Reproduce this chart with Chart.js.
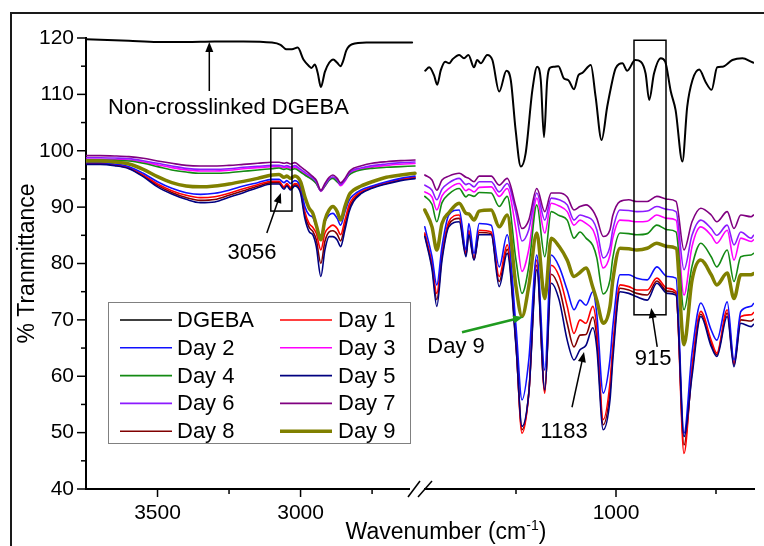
<!DOCTYPE html>
<html>
<head>
<meta charset="utf-8">
<script src="https://cdn.jsdelivr.net/npm/chart.js@4.4.1/dist/chart.umd.min.js"></script>
<style>
  html, body { margin: 0; padding: 0; background: #fff; }
  #wrap { position: relative; width: 764px; height: 546px; overflow: hidden; background: #fff; }
  #frame { position: absolute; left: 10px; top: 12px; width: 800px; height: 600px; border: 2px solid #1a1a1a; }
  #ftir { position: absolute; left: 0; top: 0; }
  #xtitle { position: absolute; left: 246px; width: 400px; top: 518px; text-align: center;
            font: 23px "Liberation Sans", Arial, sans-serif; color: #000; line-height: 26px; }
  #xtitle sup { font-size: 14px; vertical-align: 9px; line-height: 0; }
</style>
</head>
<body>
<div id="wrap">
  <div id="frame"></div>
  <canvas id="ftir" width="764" height="546"></canvas>
  <div id="xtitle">Wavenumber (cm<sup>-1</sup>)</div>
</div>
<script>
// --- DONNEES ---
// axe casse : partie gauche (3750-2600) et partie droite (1480-655)
const leftTicks = [3500, 3250, 3000, 2750];
const rightTicks = [1250, 1000, 750];

// DGEBA non reticule (decale vers le haut)
const dgebaLeftWn = [3750, 3700, 3600, 3500, 3400, 3300, 3200, 3100, 3070, 3050, 3030, 3010, 2990, 2970, 2962, 2950, 2940, 2929, 2915, 2900, 2886, 2872, 2860, 2852, 2840, 2820, 2770, 2700, 2610];
const dgebaLeft = [119.8, 119.7, 119.5, 119.3, 119.3, 119.4, 119.4, 119.2, 118.8, 118.0, 118.0, 118.3, 116.2, 115.0, 114.7, 115.3, 113.8, 111.3, 114.0, 115.6, 116.2, 115.6, 115.0, 115.8, 117.8, 118.9, 119.2, 119.2, 119.2];
const dgebaRightWn = [1477, 1467, 1455, 1447, 1438, 1427, 1417, 1409, 1392, 1380, 1369, 1355, 1347, 1338, 1322, 1309, 1292, 1274, 1263, 1251, 1238, 1226, 1209, 1197, 1188, 1180, 1172, 1163, 1155, 1144, 1130, 1119, 1105, 1094, 1084, 1063, 1051, 1036, 1022, 1013, 1001, 984, 972, 952, 938, 926, 917, 905, 888, 877, 863, 851, 834, 822, 809, 792, 776, 761, 747, 734, 709, 684, 659, 655];
const dgebaRight = [114.2, 114.8, 113.4, 111.7, 114.3, 115.8, 115.5, 116.2, 117.0, 116.4, 117.0, 114.8, 116.1, 115.5, 117.0, 116.1, 110.5, 114.2, 112.5, 103.7, 97.2, 99.5, 110.8, 114.9, 112.5, 102.4, 112.5, 114.8, 114.9, 115.0, 112.8, 112.5, 110.9, 113.4, 113.8, 115.2, 109.6, 101.9, 107.8, 111.1, 114.6, 115.5, 114.2, 116.1, 115.8, 113.7, 109.0, 113.7, 116.4, 115.8, 110.5, 107.2, 98.1, 107.8, 112.5, 114.4, 112.2, 110.8, 114.8, 114.9, 116.1, 116.4, 115.7, 115.6];

// echantillons communs pour les jours
const dayLeftWn = [3750, 3700, 3650, 3600, 3550, 3500, 3450, 3400, 3350, 3300, 3250, 3200, 3150, 3100, 3075, 3058, 3048, 3035, 3020, 3000, 2985, 2970, 2957, 2945, 2929, 2915, 2900, 2887, 2872, 2860, 2845, 2830, 2815, 2790, 2750, 2700, 2650, 2600];
const dayRightWn = [1478, 1460, 1448, 1435, 1418, 1392, 1375, 1368, 1355, 1342, 1312, 1292, 1272, 1250, 1235, 1218, 1198, 1178, 1162, 1142, 1122, 1105, 1090, 1075, 1058, 1048, 1032, 1015, 1008, 990, 968, 948, 922, 898, 872, 850, 830, 810, 788, 762, 748, 722, 705, 688, 662, 656];

const day1Left = [97.77, 97.77, 97.53, 97.0, 95.7, 94.1, 92.92, 92.09, 91.68, 91.85, 92.45, 93.27, 93.98, 94.6, 94.58, 93.6, 94.2, 93.5, 94.2, 93.15, 89.2, 87.1, 86.4, 85.35, 82.4, 85.35, 86.4, 86.8, 86.2, 85.1, 87.7, 90.4, 91.7, 92.7, 93.6, 94.34, 94.93, 95.3];
const day1Right = [85.4, 80.0, 74.7, 81.8, 87.4, 88.6, 81.8, 85.9, 80.9, 85.9, 85.6, 77.7, 83.3, 65.9, 49.9, 57.0, 80.6, 57.0, 79.7, 77.7, 72.4, 67.6, 70.0, 69.4, 72.4, 68.5, 52.3, 58.8, 65.3, 76.2, 75.9, 75.3, 75.3, 77.4, 75.6, 75.0, 46.3, 61.7, 71.5, 66.4, 64.1, 71.8, 62.3, 70.6, 70.9, 71.3];

const day2Left = [97.89, 97.89, 97.65, 97.18, 96.0, 94.5, 93.33, 92.56, 92.27, 92.45, 93.0, 93.75, 94.34, 94.93, 94.93, 94.34, 94.7, 94.2, 94.7, 93.6, 90.1, 88.6, 88.2, 86.5, 85.0, 87.4, 88.6, 88.9, 88.0, 86.8, 89.2, 91.26, 92.15, 93.0, 93.75, 94.5, 95.1, 95.5];
const day2Right = [86.5, 81.2, 76.2, 83.0, 88.6, 89.5, 82.4, 87.1, 81.8, 87.1, 86.8, 79.4, 85.1, 68.8, 55.8, 62.9, 81.5, 61.1, 81.5, 79.4, 75.3, 71.8, 73.5, 72.6, 75.0, 71.0, 57.0, 63.0, 68.8, 78.0, 78.0, 77.4, 77.1, 79.4, 77.7, 77.4, 49.9, 64.1, 73.0, 68.2, 66.4, 73.2, 62.9, 71.5, 72.4, 72.9];

const day3Left = [98.5, 98.5, 98.45, 98.35, 98.0, 97.5, 97.0, 96.6, 96.4, 96.4, 96.55, 96.8, 97.0, 97.15, 97.15, 97.0, 97.1, 96.9, 97.1, 96.4, 95.9, 95.3, 94.8, 94.2, 92.8, 93.7, 94.8, 95.2, 94.6, 93.8, 94.6, 95.8, 96.4, 96.7, 97.1, 97.4, 97.6, 97.75];
const day3Right = [92.7, 91.8, 89.5, 92.0, 93.3, 94.2, 92.9, 93.2, 92.7, 93.5, 93.6, 91.9, 93.3, 86.0, 78.6, 82.5, 91.6, 85.4, 90.7, 90.2, 89.2, 86.8, 87.7, 87.1, 86.0, 84.0, 79.2, 81.5, 84.5, 87.7, 87.6, 87.4, 87.5, 88.6, 88.0, 87.7, 74.4, 83.0, 86.5, 85.0, 83.6, 85.9, 80.6, 84.5, 83.9, 84.2];

const day4Left = [98.36, 98.36, 98.3, 98.18, 97.77, 97.18, 96.59, 96.23, 96.0, 96.0, 96.11, 96.35, 96.59, 96.82, 96.94, 96.7, 96.82, 96.59, 96.82, 96.23, 95.7, 95.23, 94.8, 94.2, 92.9, 93.75, 94.8, 95.1, 94.5, 94.05, 94.8, 95.7, 96.17, 96.59, 96.88, 97.06, 97.18, 97.3];
const day4Right = [91.9, 90.5, 87.4, 90.8, 92.3, 93.3, 91.8, 92.2, 91.9, 92.6, 92.5, 90.1, 91.9, 80.6, 74.7, 79.5, 90.4, 81.2, 89.2, 88.5, 87.7, 84.5, 85.6, 84.5, 83.2, 81.0, 74.6, 77.1, 81.0, 85.4, 85.3, 85.1, 85.3, 86.8, 86.0, 85.6, 71.8, 79.5, 83.6, 81.2, 79.4, 82.4, 76.8, 81.2, 81.5, 81.8];

const day5Left = [97.59, 97.59, 97.35, 96.82, 95.4, 93.6, 92.33, 91.38, 90.79, 90.91, 91.74, 92.56, 93.45, 94.1, 94.1, 93.16, 93.75, 93.04, 93.75, 92.45, 88.0, 85.65, 85.06, 83.0, 77.7, 82.4, 84.76, 84.76, 84.17, 83.0, 85.94, 89.2, 90.97, 92.33, 93.33, 94.1, 94.7, 95.05];
const day5Right = [84.8, 79.0, 72.4, 80.6, 86.5, 87.4, 81.2, 85.1, 80.6, 85.1, 85.1, 75.9, 81.8, 65.3, 51.1, 57.0, 78.9, 57.6, 76.5, 73.5, 66.4, 62.9, 64.7, 65.5, 68.6, 65.0, 50.5, 55.8, 62.9, 75.0, 74.7, 74.1, 73.5, 76.5, 74.7, 74.4, 49.3, 60.0, 70.6, 65.3, 63.5, 70.6, 61.7, 69.4, 68.8, 69.2];

const day6Left = [98.77, 98.77, 98.71, 98.6, 98.24, 97.77, 97.3, 96.88, 96.7, 96.7, 96.82, 97.06, 97.24, 97.41, 97.41, 97.24, 97.36, 97.12, 97.36, 96.7, 96.17, 95.64, 95.1, 94.5, 92.9, 93.9, 95.0, 95.4, 94.8, 94.0, 94.8, 96.0, 96.6, 96.94, 97.36, 97.65, 97.89, 98.0];
const day6Right = [93.9, 93.0, 91.3, 93.2, 94.3, 95.1, 94.0, 94.2, 93.6, 94.5, 94.5, 92.7, 94.2, 89.0, 84.0, 86.0, 92.5, 87.7, 91.6, 91.3, 90.4, 87.7, 88.6, 88.3, 87.6, 86.0, 81.0, 83.0, 86.0, 89.5, 89.4, 89.2, 89.3, 90.1, 89.6, 89.2, 78.9, 85.0, 87.7, 86.2, 85.0, 86.8, 83.3, 85.6, 84.5, 85.0];

const day7Left = [99.13, 99.13, 99.07, 98.95, 98.66, 98.18, 97.77, 97.41, 97.3, 97.3, 97.41, 97.59, 97.77, 97.95, 97.95, 97.77, 97.89, 97.65, 97.89, 97.18, 96.59, 96.0, 95.4, 94.8, 93.0, 94.2, 95.3, 95.7, 95.1, 94.3, 95.1, 96.3, 96.9, 97.3, 97.77, 98.06, 98.24, 98.36];
const day7Right = [95.7, 94.8, 93.0, 94.8, 95.5, 96.0, 95.3, 95.1, 94.5, 95.5, 95.5, 93.9, 95.1, 90.0, 86.2, 87.7, 93.3, 89.2, 92.5, 92.5, 91.8, 89.5, 90.1, 90.4, 89.4, 88.0, 84.8, 86.0, 88.5, 91.0, 91.3, 91.0, 91.0, 91.9, 91.4, 91.0, 82.4, 87.4, 89.8, 88.6, 87.4, 89.2, 86.2, 88.6, 88.3, 88.6];

const day8Left = [97.7, 97.7, 97.45, 96.9, 95.55, 93.85, 92.6, 91.7, 91.2, 91.35, 92.1, 92.9, 93.7, 94.35, 94.35, 93.4, 93.95, 93.3, 93.95, 92.8, 88.6, 86.4, 85.7, 84.2, 80.0, 83.9, 85.6, 85.8, 85.2, 84.0, 86.8, 89.8, 91.3, 92.5, 93.45, 94.2, 94.8, 95.2];
const day8Right = [85.1, 79.5, 73.6, 81.2, 86.9, 88.0, 81.5, 85.5, 80.7, 85.5, 85.3, 76.8, 82.5, 65.6, 50.5, 57.0, 79.7, 57.3, 78.1, 75.6, 69.4, 65.2, 67.3, 67.4, 70.5, 66.7, 51.4, 57.3, 64.1, 75.6, 75.3, 74.7, 74.4, 76.9, 75.1, 74.7, 47.8, 60.8, 71.0, 65.8, 63.8, 71.2, 62.0, 70.0, 69.8, 70.1];

const day9Left = [98.18, 98.18, 98.0, 97.65, 96.7, 95.4, 94.34, 93.75, 93.6, 93.75, 94.1, 94.57, 95.1, 95.7, 95.8, 95.3, 95.5, 95.1, 95.5, 94.5, 91.85, 89.8, 88.9, 86.8, 84.2, 87.7, 89.5, 90.1, 89.2, 87.7, 90.1, 92.2, 93.0, 93.7, 94.5, 95.3, 95.7, 96.0];
const day9Right = [89.5, 86.5, 82.4, 87.1, 89.0, 90.7, 88.9, 88.8, 87.7, 89.3, 89.5, 86.5, 88.6, 75.9, 70.6, 76.0, 85.4, 73.8, 84.5, 83.0, 80.6, 77.7, 78.4, 79.2, 75.8, 73.5, 69.4, 72.4, 77.0, 82.7, 82.6, 82.4, 82.7, 83.6, 83.0, 82.7, 65.6, 77.0, 80.6, 78.0, 76.2, 78.3, 73.8, 78.0, 78.0, 78.2];

const series = [
  { label: "DGEBA", color: "#000000", width: 2,   lx: dgebaLeftWn, ly: dgebaLeft, rx: dgebaRightWn, ry: dgebaRight },
  { label: "Day 1", color: "#ff0000", width: 1.6, lx: dayLeftWn, ly: day1Left, rx: dayRightWn, ry: day1Right },
  { label: "Day 2", color: "#1010ff", width: 1.6, lx: dayLeftWn, ly: day2Left, rx: dayRightWn, ry: day2Right },
  { label: "Day 3", color: "#ff00ff", width: 1.6, lx: dayLeftWn, ly: day3Left, rx: dayRightWn, ry: day3Right },
  { label: "Day 4", color: "#138a13", width: 1.6, lx: dayLeftWn, ly: day4Left, rx: dayRightWn, ry: day4Right },
  { label: "Day 5", color: "#000080", width: 1.6, lx: dayLeftWn, ly: day5Left, rx: dayRightWn, ry: day5Right },
  { label: "Day 6", color: "#8c1aff", width: 1.6, lx: dayLeftWn, ly: day6Left, rx: dayRightWn, ry: day6Right },
  { label: "Day 7", color: "#800080", width: 1.6, lx: dayLeftWn, ly: day7Left, rx: dayRightWn, ry: day7Right },
  { label: "Day 8", color: "#800000", width: 1.6, lx: dayLeftWn, ly: day8Left, rx: dayRightWn, ry: day8Right },
  { label: "Day 9", color: "#808000", width: 3.5, lx: dayLeftWn, ly: day9Left, rx: dayRightWn, ry: day9Right }
];

// annotations (coordonnees en unites des axes)
const notes = [
  { axis: "xL", x: 3673, y: 107.6, text: "Non-crosslinked DGEBA", align: "left" },
  { axis: "xL", x: 3170, y: 81.9, text: "3056" },
  { axis: "xR", x: 1130, y: 50.1, text: "1183" },
  { axis: "xR", x: 907,  y: 63.1, text: "915" },
  { axis: "xR", x: 1400, y: 65.2, text: "Day 9" }
];
const arrows = [
  { axis: "xL", from: [3319, 110.6], to: [3319, 119.3], color: "#000" },
  { axis: "xL", from: [3118, 85.4],  to: [3069, 92.5],  color: "#000" },
  { axis: "xR", from: [1110, 54.5],  to: [1080, 64.3],  color: "#000" },
  { axis: "xR", from: [897, 65.2],   to: [912, 72.1],   color: "#000" },
  { axis: "xR", from: [1385, 67.8],  to: [1232, 70.5],  color: "#1f9b1f" }
];
const boxes = [
  { axis: "xL", x0: 3104, x1: 3030, y0: 104.0, y1: 89.3 },
  { axis: "xR", x0: 955,  x1: 875,  y0: 119.6, y1: 70.9 }
];

const FONT = '"Liberation Sans", Arial, sans-serif';

// --- PLUGINS ---
function seg(ctx, x1, y1, x2, y2) {
  ctx.beginPath(); ctx.moveTo(x1, y1); ctx.lineTo(x2, y2); ctx.stroke();
}

const tickMarks = {
  id: "tickMarks",
  afterDraw(chart) {
    const ctx = chart.ctx;
    ctx.save();
    ctx.strokeStyle = "#000";
    ctx.lineWidth = 1.5;
    const y = chart.scales.y;
    y.ticks.forEach(t => {
      const py = y.getPixelForValue(t.value);
      seg(ctx, y.right - (t.value % 10 === 0 ? 9 : 5), py, y.right, py);
    });
    ["xL", "xR"].forEach(id => {
      const s = chart.scales[id];
      s.ticks.forEach(t => {
        const px = s.getPixelForValue(t.value);
        seg(ctx, px, s.top, px, s.top + (t.value % 500 === 0 ? 8 : 5));
      });
    });
    ctx.restore();
  }
};

const axisBreak = {
  id: "axisBreak",
  afterDraw(chart) {
    const ctx = chart.ctx;
    const bx = chart.scales.xL.right;
    const by = chart.scales.xL.top;
    ctx.save();
    ctx.fillStyle = "#fff";
    ctx.fillRect(bx - 7, by - 3, 14, 6);
    ctx.strokeStyle = "#000";
    ctx.lineWidth = 1.5;
    seg(ctx, bx - 9, by + 8, bx + 3, by - 8);
    seg(ctx, bx + 1, by + 8, bx + 15, by - 8);
    ctx.restore();
  }
};

const noteLayer = {
  id: "noteLayer",
  afterDatasetsDraw(chart) {
    const ctx = chart.ctx;
    const y = chart.scales.y;
    ctx.save();
    ctx.strokeStyle = "#000";
    ctx.lineWidth = 1.5;
    boxes.forEach(b => {
      const s = chart.scales[b.axis];
      const x0 = s.getPixelForValue(b.x0), x1 = s.getPixelForValue(b.x1);
      const y0 = y.getPixelForValue(b.y0), y1 = y.getPixelForValue(b.y1);
      ctx.strokeRect(x0, y0, x1 - x0, y1 - y0);
    });
    arrows.forEach(a => {
      const s = chart.scales[a.axis];
      const x0 = s.getPixelForValue(a.from[0]), y0 = y.getPixelForValue(a.from[1]);
      const x1 = s.getPixelForValue(a.to[0]), y1 = y.getPixelForValue(a.to[1]);
      const ang = Math.atan2(y1 - y0, x1 - x0);
      const hl = 10, hw = 4;
      ctx.strokeStyle = a.color;
      ctx.fillStyle = a.color;
      ctx.lineWidth = a.color === "#000" ? 1.5 : 2.5;
      seg(ctx, x0, y0, x1 - Math.cos(ang) * hl * 0.8, y1 - Math.sin(ang) * hl * 0.8);
      ctx.beginPath();
      ctx.moveTo(x1, y1);
      ctx.lineTo(x1 - Math.cos(ang) * hl - Math.sin(ang) * hw, y1 - Math.sin(ang) * hl + Math.cos(ang) * hw);
      ctx.lineTo(x1 - Math.cos(ang) * hl + Math.sin(ang) * hw, y1 - Math.sin(ang) * hl - Math.cos(ang) * hw);
      ctx.closePath();
      ctx.fill();
    });
    ctx.fillStyle = "#000";
    ctx.font = "22px " + FONT;
    ctx.textBaseline = "middle";
    notes.forEach(n => {
      const s = chart.scales[n.axis];
      ctx.textAlign = n.align || "center";
      ctx.fillText(n.text, s.getPixelForValue(n.x), y.getPixelForValue(n.y));
    });
    ctx.restore();
  }
};

const legendBox = {
  id: "legendBox",
  afterDraw(chart) {
    const ctx = chart.ctx;
    const a = chart.chartArea;
    const left = a.left + 22, top = a.top + 264, w = 302, h = 141;
    ctx.save();
    ctx.strokeStyle = "#808080";
    ctx.lineWidth = 1;
    ctx.strokeRect(left + 0.5, top + 0.5, w, h);
    ctx.font = "22px " + FONT;
    ctx.textBaseline = "middle";
    ctx.textAlign = "left";
    series.forEach((s, i) => {
      const col = i % 2, row = Math.floor(i / 2);
      const x = left + (col === 0 ? 12 : 172);
      const yy = top + 18 + row * 27.8;
      ctx.strokeStyle = s.color;
      ctx.lineWidth = s.width === 3.5 ? 3.5 : 1.6;
      seg(ctx, x, yy, x + 52, yy);
      ctx.fillStyle = "#000";
      ctx.fillText(s.label, x + (col === 0 ? 57 : 58), yy + 1);
    });
    ctx.restore();
  }
};

// --- CHART ---
const datasets = [];
series.forEach((s, i) => {
  const order = s.label === "Day 8" ? 20 : 10 - i;
  datasets.push({
    label: s.label, xAxisID: "xL", yAxisID: "y", order: order,
    data: s.lx.map((w, k) => ({ x: w, y: s.ly[k] })),
    borderColor: s.color, borderWidth: s.width
  });
  datasets.push({
    label: s.label, xAxisID: "xR", yAxisID: "y", order: order,
    data: s.rx.map((w, k) => ({ x: w, y: s.ry[k] })),
    borderColor: s.color, borderWidth: s.width
  });
});

const tickFont = { family: FONT, size: 21 };

function xScale(min, max, ticks, weight) {
  return {
    type: "linear", position: "bottom", stack: "wn", stackWeight: weight,
    reverse: true, min: min, max: max,
    afterBuildTicks: sc => { sc.ticks = ticks.map(v => ({ value: v })); },
    afterFit: sc => { sc.height = 57; },
    ticks: {
      autoSkip: false, maxRotation: 0, padding: 12, color: "#000", font: tickFont,
      callback: v => (v % 500 === 0 ? String(v) : "")
    },
    grid: { display: false, drawTicks: false },
    border: { display: true, color: "#000", width: 2 }
  };
}

new Chart(document.getElementById("ftir"), {
  type: "line",
  data: { datasets: datasets },
  options: {
    responsive: false,
    animation: false,
    devicePixelRatio: 1,
    layout: { padding: { left: 12, top: 38, right: 10, bottom: 0 } },
    elements: {
      point: { radius: 0 },
      line: { cubicInterpolationMode: "monotone", borderJoinStyle: "round", borderCapStyle: "round", fill: false }
    },
    plugins: { legend: { display: false }, tooltip: { enabled: false } },
    scales: {
      y: {
        type: "linear", position: "left", min: 40, max: 120,
        afterFit: sc => { sc.width = 74; },
        ticks: {
          stepSize: 5, autoSkip: false, padding: 12, color: "#000", font: tickFont,
          callback: v => (v % 10 === 0 ? String(v) : "")
        },
        grid: { display: false, drawTicks: false },
        border: { display: true, color: "#000", width: 2 },
        title: {
          display: true, text: "% Tranmittance", color: "#000",
          font: { family: FONT, size: 23 }, padding: { top: 2, bottom: 0 }
        }
      },
      xL: xScale(2593, 3750, leftTicks, 331),
      xR: xScale(655, 1497.5, rightTicks, 337)
    }
  },
  plugins: [tickMarks, axisBreak, noteLayer, legendBox]
});
</script>
</body>
</html>
